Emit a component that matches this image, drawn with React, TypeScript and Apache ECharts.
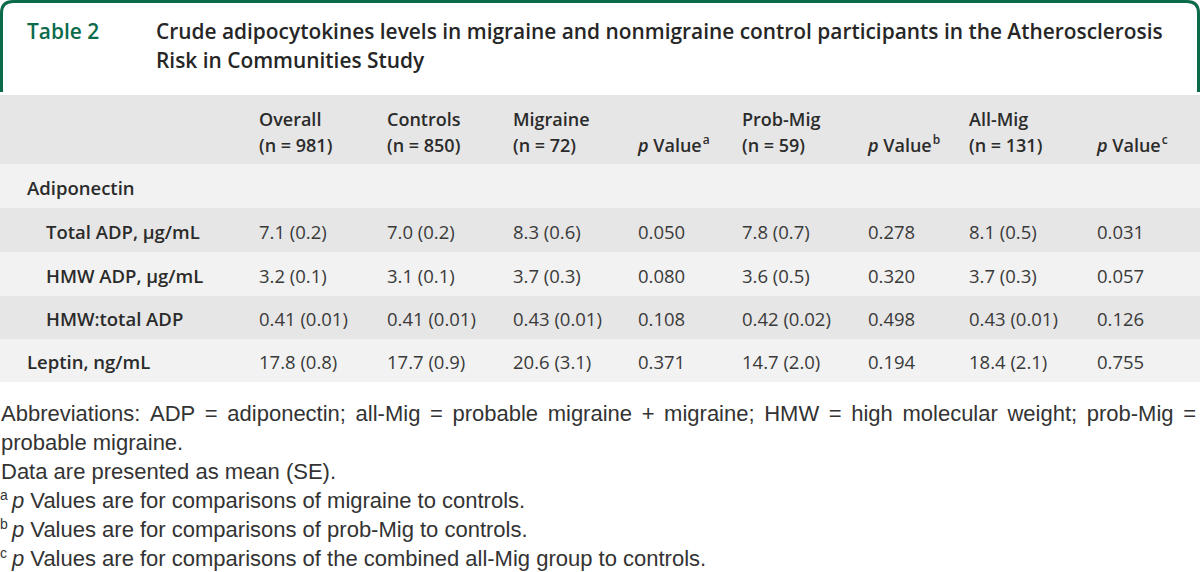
import React, { useEffect, useRef } from "react";
import * as echarts from "echarts";

// ---------- data ----------
const tableNumber = "Table 2";
const titleLines = [
  "Crude adipocytokines levels in migraine and nonmigraine control participants in the Atherosclerosis",
  "Risk in Communities Study",
];
const columnNames = ["Overall", "Controls", "Migraine", "p Value", "Prob-Mig", "p Value", "All-Mig", "p Value"];
const columnCounts = ["(n = 981)", "(n = 850)", "(n = 72)", "", "(n = 59)", "", "(n = 131)", ""];
const columnMarks = ["", "", "", "a", "", "b", "", "c"];
const rowLabels = ["Adiponectin", "Total ADP, μg/mL", "HMW ADP, μg/mL", "HMW:total ADP", "Leptin, ng/mL"];
const rowIndented = [false, true, true, true, false];
const overallValues = ["", "7.1 (0.2)", "3.2 (0.1)", "0.41 (0.01)", "17.8 (0.8)"];
const controlValues = ["", "7.0 (0.2)", "3.1 (0.1)", "0.41 (0.01)", "17.7 (0.9)"];
const migraineValues = ["", "8.3 (0.6)", "3.7 (0.3)", "0.43 (0.01)", "20.6 (3.1)"];
const pMigraine = ["", "0.050", "0.080", "0.108", "0.371"];
const probMigValues = ["", "7.8 (0.7)", "3.6 (0.5)", "0.42 (0.02)", "14.7 (2.0)"];
const pProbMig = ["", "0.278", "0.320", "0.498", "0.194"];
const allMigValues = ["", "8.1 (0.5)", "3.7 (0.3)", "0.43 (0.01)", "18.4 (2.1)"];
const pAllMig = ["", "0.031", "0.057", "0.126", "0.755"];
const footAbbrev =
  "Abbreviations: ADP = adiponectin; all-Mig = probable migraine + migraine; HMW = high molecular weight; prob-Mig =";
const footAbbrevCont = "probable migraine.";
const footData = "Data are presented as mean (SE).";
const footMarks = ["a", "b", "c"];
const footNotes = [
  " Values are for comparisons of migraine to controls.",
  " Values are for comparisons of prob-Mig to controls.",
  " Values are for comparisons of the combined all-Mig group to controls.",
];

// ---------- layout ----------
const W = 1200;
const H = 572;
const GREEN = "#0b6a4b";
const colX = [259, 387, 513, 638, 742, 868, 969, 1097];
const rowBands = [
  [164, 208],
  [208, 252],
  [252, 296],
  [296, 339],
  [339, 382],
];
const HEAD_Y1 = 119;
const HEAD_Y2 = 145;
const TABLE_FONT = '"Open Sans", "Liberation Sans", sans-serif';
const FOOT_FONT = '"Liberation Sans", sans-serif';

let measureCtx: CanvasRenderingContext2D | null = null;
function tw(text: string, font: string): number {
  if (!measureCtx) measureCtx = document.createElement("canvas").getContext("2d");
  measureCtx!.font = font;
  return measureCtx!.measureText(text).width;
}

function txt(x: number, y: number, text: string, font: string, fill: string) {
  return {
    type: "text",
    x,
    y,
    silent: true,
    style: { text, font, fill, align: "left", verticalAlign: "middle" },
  };
}

function buildElements() {
  const els: any[] = [];
  // frame
  els.push({
    type: "frameTop",
    x: 0,
    y: 0,
    silent: true,
    style: { fill: "none", stroke: GREEN, lineWidth: 3 },
  });
  // title (fit first line to its span in the reference)
  const baseTitle = `600 20px ${TABLE_FONT}`;
  const titleSize = Math.min(22, Math.max(17, (20 * 1007) / tw(titleLines[0], baseTitle)));
  const titleFont = `600 ${titleSize.toFixed(2)}px ${TABLE_FONT}`;
  els.push(txt(27, 31, tableNumber, titleFont, GREEN));
  els.push(txt(156, 31, titleLines[0], titleFont, "#262626"));
  els.push(txt(156, 60, titleLines[1], titleFont, "#262626"));

  // header band
  els.push({ type: "rect", silent: true, shape: { x: 0, y: 95, width: W, height: 69 }, style: { fill: "#e6e6e6" } });
  rowBands.forEach((b, i) => {
    els.push({
      type: "rect",
      silent: true,
      shape: { x: 0, y: b[0], width: W, height: b[1] - b[0] },
      style: { fill: i % 2 === 0 ? "#f1f2f1" : "#e6e6e6" },
    });
  });

  const hFont = `600 18px ${TABLE_FONT}`;
  const hFontI = `italic 600 18px ${TABLE_FONT}`;
  const supFont = `600 12px ${TABLE_FONT}`;
  const lFont = `600 18.5px ${TABLE_FONT}`;
  const hColor = "#2b2b2b";
  columnNames.forEach((name, i) => {
    const x = colX[i];
    if (columnMarks[i]) {
      const y = HEAD_Y2;
      els.push(txt(x, y, "p", hFontI, hColor));
      const wp = tw("p", hFontI);
      const rest = name.slice(1);
      els.push(txt(x + wp, y, rest, hFont, hColor));
      const wr = tw(rest, hFont);
      els.push(txt(x + wp + wr + 1, y - 6, columnMarks[i], supFont, hColor));
    } else {
      els.push(txt(x, HEAD_Y1, name, hFont, hColor));
      els.push(txt(x, HEAD_Y2, columnCounts[i], hFont, hColor));
    }
  });

  const vFont = `400 18.5px ${TABLE_FONT}`;
  const vColor = "#3a3a3a";
  const cols = [overallValues, controlValues, migraineValues, pMigraine, probMigValues, pProbMig, allMigValues, pAllMig];
  rowLabels.forEach((label, r) => {
    const yc = (rowBands[r][0] + rowBands[r][1]) / 2 + 1;
    els.push(txt(rowIndented[r] ? 46 : 27, yc, label, lFont, hColor));
    cols.forEach((col, c) => {
      if (col[r]) els.push(txt(colX[c], yc, col[r], vFont, vColor));
    });
  });

  // footnotes
  const fFont = `400 22px ${FOOT_FONT}`;
  const fFontI = `italic 400 22px ${FOOT_FONT}`;
  const fSup = `400 14px ${FOOT_FONT}`;
  const fColor = "#333333";
  const lineY = (i: number) => 413 + i * 29;
  // justified first line
  const words = footAbbrev.split(" ");
  const widths = words.map((w) => tw(w, fFont));
  const total = widths.reduce((a, b) => a + b, 0);
  const left = 1;
  const right = 1196;
  const gap = (right - left - total) / (words.length - 1);
  let cx = left;
  words.forEach((w, i) => {
    els.push(txt(cx, lineY(0), w, fFont, fColor));
    cx += widths[i] + gap;
  });
  els.push(txt(left, lineY(1), footAbbrevCont, fFont, fColor));
  els.push(txt(left, lineY(2), footData, fFont, fColor));
  footNotes.forEach((note, i) => {
    const y = lineY(3 + i);
    els.push(txt(0, y - 5, footMarks[i], fSup, fColor));
    const px = 12;
    els.push(txt(px, y, "p", fFontI, fColor));
    els.push(txt(px + tw("p", fFontI), y, note, fFont, fColor));
  });
  return els;
}

let registered = false;
function registerShapes() {
  if (registered) return;
  registered = true;
  echarts.graphic.registerShape(
    "frameTop",
    echarts.graphic.extendPath("M1.5 92 L1.5 13 Q1.5 1.5 13 1.5 L1187 1.5 Q1198.5 1.5 1198.5 13 L1198.5 92", {})
  );
}

export default function App() {
  const ref = useRef<HTMLDivElement>(null);
  useEffect(() => {
    document.body.style.margin = "0";
    document.body.style.background = "#ffffff";
    registerShapes();
    const chart = echarts.init(ref.current!, undefined, { renderer: "svg", width: W, height: H });
    chart.setOption({
      animation: false,
      backgroundColor: "#ffffff",
      graphic: { elements: buildElements() },
    });
    return () => chart.dispose();
  }, []);
  return <div ref={ref} style={{ position: "absolute", left: 0, top: 0, width: W, height: H }} />;
}
